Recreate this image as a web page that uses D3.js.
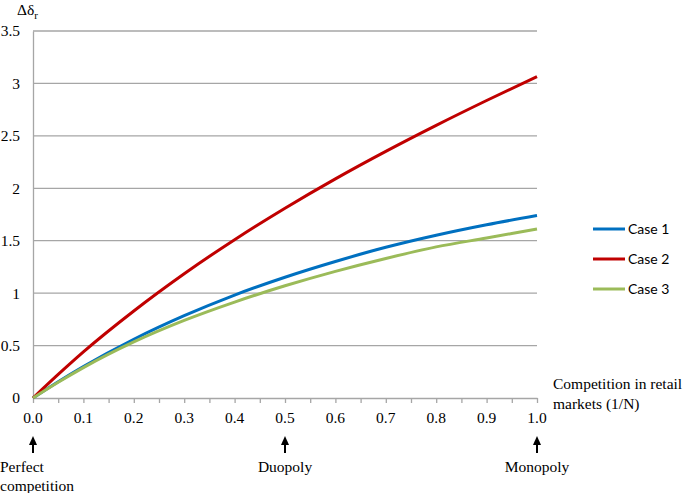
<!DOCTYPE html>
<html>
<head>
<meta charset="utf-8">
<script src="https://cdn.jsdelivr.net/npm/d3@7"></script>
<style>
  body { margin: 0; background: #fff; }
  .serif { font-family: "Liberation Serif", "Times New Roman", serif; font-size: 15.5px; fill: #000; }
  .legend { font-family: Lato, "Open Sans", sans-serif; font-size: 14px; fill: #000; }
</style>
</head>
<body>
<div id="chart"></div>
<script>
// data
var xValues = [0, 0.05, 0.1, 0.2, 0.3, 0.4, 0.5, 0.6, 0.7, 0.8, 0.9, 1.0];
var case1 = [0, 0.155, 0.30, 0.56, 0.785, 0.982, 1.152, 1.302, 1.437, 1.552, 1.652, 1.74];
var case2 = [0, 0.225, 0.44, 0.83, 1.185, 1.51, 1.81, 2.09, 2.352, 2.60, 2.837, 3.065];
var case3 = [0, 0.15, 0.29, 0.535, 0.74, 0.915, 1.07, 1.208, 1.331, 1.441, 1.526, 1.611];
var seriesNames = ["Case 1", "Case 2", "Case 3"];
var seriesColors = ["#0070C0", "#C00000", "#9BBB59"];
var yTicks = [0, 0.5, 1, 1.5, 2, 2.5, 3, 3.5];
var xTicks = [0, 0.1, 0.2, 0.3, 0.4, 0.5, 0.6, 0.7, 0.8, 0.9, 1.0];
var markers = [{x: 0, label: ["Perfect", "competition"]}, {x: 0.5, label: ["Duopoly"]}, {x: 1.0, label: ["Monopoly"]}];

var margin = {top: 31, right: 148, bottom: 95, left: 33},
    width = 685, height = 493,
    innerW = 537 - margin.left,
    innerH = 398 - margin.top;

var x = d3.scaleLinear().domain([0, 1]).range([0, innerW]);
var y = d3.scaleLinear().domain([0, 3.5]).range([innerH, 0]);

var svg = d3.select("#chart").append("svg")
    .attr("width", width)
    .attr("height", height);

var g = svg.append("g")
    .attr("transform", "translate(" + margin.left + "," + margin.top + ")");

// gridlines
g.selectAll(".grid")
    .data(yTicks.filter(function(d) { return d > 0; }))
  .enter().append("line")
    .attr("x1", 0).attr("x2", innerW)
    .attr("y1", function(d) { return y(d); })
    .attr("y2", function(d) { return y(d); })
    .attr("stroke", "#a6a6a6").attr("stroke-width", 1.3);

// y axis
var yAxis = g.append("g")
    .attr("font-family", null).attr("font-size", null)
    .call(d3.axisLeft(y).tickValues(yTicks).tickSize(0).tickPadding(13)
      .tickFormat(function(d) { return d === 0 ? "0" : String(d); }));
yAxis.attr("font-family", null).attr("font-size", null);
yAxis.select(".domain").attr("stroke", "#a6a6a6").attr("stroke-width", 1.3);
yAxis.selectAll("text").attr("class", "serif");

// x axis with minor ticks every 0.05
var xAxis = g.append("g")
    .attr("transform", "translate(0," + innerH + ")")
    .call(d3.axisBottom(x).tickValues(d3.range(0, 1.0001, 0.05)).tickSize(5).tickSizeOuter(0)
      .tickFormat(function() { return ""; }));
xAxis.select(".domain").attr("stroke", "#a6a6a6").attr("stroke-width", 1.3);
xAxis.selectAll(".tick line").attr("stroke", "#a6a6a6").attr("stroke-width", 1.3);

g.selectAll(".xlab")
    .data(xTicks)
  .enter().append("text")
    .attr("class", "serif")
    .attr("x", function(d) { return x(d); })
    .attr("y", innerH + 25)
    .attr("text-anchor", "middle")
    .text(function(d) { return d.toFixed(1); });

// lines
var line = d3.line()
    .x(function(d) { return x(d[0]); })
    .y(function(d) { return y(d[1]); })
    .curve(d3.curveMonotoneX);

var allSeries = [case1, case2, case3];
allSeries.forEach(function(vals, i) {
  g.append("path")
    .datum(xValues.map(function(xv, j) { return [xv, vals[j]]; }))
    .attr("fill", "none")
    .attr("stroke", seriesColors[i])
    .attr("stroke-width", 3)
    .attr("d", line);
});

// legend
var legY = [229, 259, 289];
seriesNames.forEach(function(name, i) {
  svg.append("line")
    .attr("x1", 593).attr("x2", 625)
    .attr("y1", legY[i]).attr("y2", legY[i])
    .attr("stroke", seriesColors[i]).attr("stroke-width", 3);
  svg.append("text")
    .attr("class", "legend")
    .attr("x", 628).attr("y", legY[i] + 5)
    .text(name);
});

// axis titles
var yl = svg.append("text").attr("class", "serif").attr("x", 17).attr("y", 15);
yl.append("tspan").text("Δδ");
yl.append("tspan").attr("font-size", "11px").attr("dy", 4).text("r");

svg.append("text").attr("class", "serif").attr("x", 553).attr("y", 389).text("Competition in retail");
svg.append("text").attr("class", "serif").attr("x", 553).attr("y", 409).text("markets (1/N)");

// arrows and market labels
markers.forEach(function(m) {
  var px = margin.left + x(m.x);
  svg.append("line")
    .attr("x1", px).attr("x2", px)
    .attr("y1", 453).attr("y2", 442)
    .attr("stroke", "#000").attr("stroke-width", 2);
  svg.append("path")
    .attr("d", "M" + (px - 4) + ",445 L" + px + ",436 L" + (px + 4) + ",445 Z")
    .attr("fill", "#000");
  m.label.forEach(function(t, k) {
    svg.append("text")
      .attr("class", "serif")
      .attr("x", m.x === 0 ? 0 : px)
      .attr("y", 472 + k * 19)
      .attr("text-anchor", m.x === 0 ? "start" : "middle")
      .text(t);
  });
});
</script>
</body>
</html>
